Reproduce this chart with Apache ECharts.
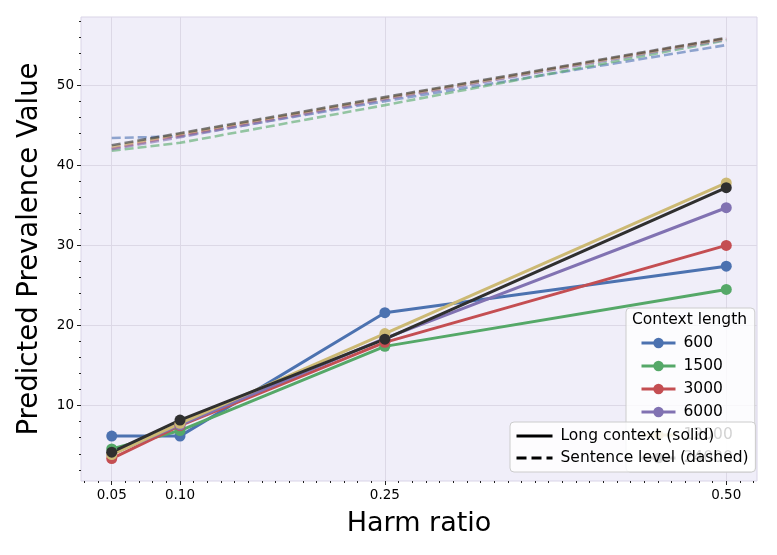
<!DOCTYPE html>
<html>
<head>
<meta charset="utf-8">
<script src="https://cdn.jsdelivr.net/npm/echarts@6/dist/echarts.min.js"></script>
<style>
html,body{margin:0;padding:0;background:#fff;}
#c{width:777px;height:555px;}
</style>
</head>
<body>
<div id="c"></div>
<script>
const harmRatio = [0.05, 0.10, 0.25, 0.50];
const contextLengths = ['600', '1500', '3000', '6000', '12000', '24000'];
const longContext600   = [6.2, 6.2, 21.6, 27.4];
const longContext1500  = [4.6, 6.9, 17.4, 24.5];
const longContext3000  = [3.4, 7.5, 17.9, 30.0];
const longContext6000  = [4.0, 7.6, 18.4, 34.7];
const longContext12000 = [3.9, 7.8, 19.0, 37.8];
const longContext24000 = [4.2, 8.2, 18.3, 37.2];
const sentence600   = [43.4, 43.6, 48.0, 55.0];
const sentence1500  = [41.8, 42.8, 47.5, 55.6];
const sentence3000  = [42.1, 43.7, 48.3, 55.8];
const sentence6000  = [42.0, 43.5, 48.2, 55.7];
const sentence12000 = [42.3, 43.9, 48.4, 55.8];
const sentence24000 = [42.5, 44.0, 48.5, 55.9];
const xTickLabels = [0.05, 0.10, 0.25, 0.50];
const yTickLabels = [10, 20, 30, 40, 50];

const longSets = [longContext600, longContext1500, longContext3000, longContext6000, longContext12000, longContext24000];
const sentSets = [sentence600, sentence1500, sentence3000, sentence6000, sentence12000, sentence24000];
const colors = ['#4C72B0', '#55A868', '#C44E52', '#8172B2', '#CCB974', '#2f2f2f'];
const fadeColors = ['rgba(76,114,176,0.6)', 'rgba(85,168,104,0.6)', 'rgba(196,78,82,0.6)', 'rgba(129,114,178,0.6)', 'rgba(204,185,116,0.6)', 'rgba(47,47,47,0.6)'];

const xMinor = [];
for (let i = 3; i <= 52; i++) xMinor.push(i / 100);
const yMinor = [];
for (let i = 2; i <= 58; i += 2) if (i % 10 !== 0) yMinor.push(i);

const font = 'DejaVu Sans';
const toPairs = arr => harmRatio.map((x, i) => [x, arr[i]]);

const series = [];
sentSets.forEach((s, i) => {
  series.push({
    type: 'line', name: 'sent_' + contextLengths[i], data: toPairs(s),
    symbol: 'none', silent: true, z: 2,
    lineStyle: { color: fadeColors[i], width: 2.6, type: [9, 4] },
    legendHoverLink: false
  });
});
longSets.forEach((s, i) => {
  series.push({
    type: 'line', name: contextLengths[i], data: toPairs(s),
    symbol: 'circle', symbolSize: 11, z: 3,
    itemStyle: { color: colors[i] },
    lineStyle: { color: colors[i], width: 3 }
  });
});
series.push({ type: 'line', name: 'Long context (solid)', data: [], symbol: 'none',
  lineStyle: { color: '#000', width: 3, type: 'solid' }, itemStyle: { color: '#000' } });
series.push({ type: 'line', name: 'Sentence level (dashed)', data: [], symbol: 'none',
  lineStyle: { color: '#000', width: 3, type: [10, 5] }, itemStyle: { color: '#000' } });

const hiddenSymbol = { color: 'rgba(0,0,0,0)', opacity: 0, borderWidth: 0 };

const chart = echarts.init(document.getElementById('c'), null, { renderer: 'canvas' });
chart.setOption({
  animation: false,
  backgroundColor: '#ffffff',
  textStyle: { fontFamily: font },
  title: {
    text: 'Context length', left: 632, top: 312,
    textStyle: { fontFamily: font, fontSize: 15.5, fontWeight: 'normal', color: '#000' }, padding: 0, z: 10
  },
  grid: { left: 81, right: 20, top: 17, bottom: 74, show: true,
    backgroundColor: '#f0eef9', borderColor: '#d9d4e7', borderWidth: 1 },
  xAxis: [{
    type: 'value', min: 0.0275, max: 0.5225, position: 'bottom',
    name: 'Harm ratio', nameLocation: 'middle', nameGap: 29,
    nameTextStyle: { fontFamily: font, fontSize: 27, color: '#000' },
    axisLine: { show: false },
    axisTick: { show: true, customValues: xTickLabels, length: 4, lineStyle: { color: '#222' } },
    axisLabel: { customValues: xTickLabels, formatter: v => v.toFixed(2), fontFamily: font, fontSize: 13.5, color: '#000', margin: 7 },
    splitLine: { show: true, lineStyle: { color: '#dcd8e6', width: 1 } }
  }, {
    type: 'value', min: 0.0275, max: 0.5225, position: 'bottom',
    axisLine: { show: false }, axisLabel: { show: false }, splitLine: { show: false },
    axisTick: { show: true, customValues: xMinor, length: 2, lineStyle: { color: '#222' } }
  }],
  yAxis: [{
    type: 'value', min: 0.6, max: 58.5, position: 'left',
    name: 'Predicted Prevalence Value', nameLocation: 'middle', nameGap: 37,
    nameTextStyle: { fontFamily: font, fontSize: 27.5, color: '#000' },
    axisLine: { show: false },
    axisTick: { show: true, customValues: yTickLabels, length: 4, lineStyle: { color: '#222' } },
    axisLabel: { customValues: yTickLabels, fontFamily: font, fontSize: 13.5, color: '#000', margin: 7 },
    splitLine: { show: true, lineStyle: { color: '#dcd8e6', width: 1 } }
  }, {
    type: 'value', min: 0.6, max: 58.5, position: 'left',
    axisLine: { show: false }, axisLabel: { show: false }, splitLine: { show: false },
    axisTick: { show: true, customValues: yMinor, length: 2, lineStyle: { color: '#222' } }
  }],
  legend: [{
    orient: 'vertical', left: 626, top: 308, z: 4,
    data: contextLengths,
    padding: [27, 22, 6, 14], itemGap: 7, itemWidth: 34, itemHeight: 13,
    lineStyle: { width: 3 },
    backgroundColor: 'rgba(255,255,255,0.8)', borderColor: '#cccccc', borderWidth: 1, borderRadius: 4,
    textStyle: { fontFamily: font, fontSize: 15.5, lineHeight: 16, color: '#000', padding: [0, 0, 0, 3] },
    selectedMode: false
  }, {
    orient: 'vertical', left: 510, top: 422, z: 8,
    data: [
      { name: 'Long context (solid)', itemStyle: hiddenSymbol },
      { name: 'Sentence level (dashed)', itemStyle: hiddenSymbol }
    ],
    padding: [6, 7, 6, 5], itemGap: 6, itemWidth: 36, itemHeight: 13,
    lineStyle: { width: 3 },
    backgroundColor: 'rgba(255,255,255,0.82)', borderColor: '#cccccc', borderWidth: 1, borderRadius: 4,
    textStyle: { fontFamily: font, fontSize: 15.5, lineHeight: 16, color: '#000', padding: [0, 0, 0, 3] },
    selectedMode: false
  }],
  series: series
});
</script>
</body>
</html>
